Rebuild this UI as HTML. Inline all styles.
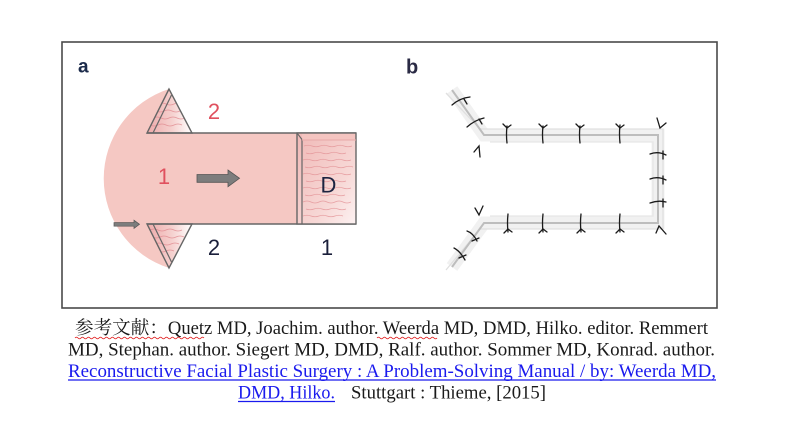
<!DOCTYPE html>
<html>
<head>
<meta charset="utf-8">
<style>
  html,body{margin:0;padding:0;background:#fff;}
  body{width:800px;height:432px;overflow:hidden;}
  svg{display:block;}
</style>
</head>
<body>
<svg width="800" height="432" viewBox="0 0 800 432" xmlns="http://www.w3.org/2000/svg">
  <defs>
    <linearGradient id="tg" x1="0" x2="1" y1="0" y2="0">
      <stop offset="0" stop-color="#eeaaaa"/>
      <stop offset="0.55" stop-color="#f5d0ce"/>
      <stop offset="1" stop-color="#ffffff"/>
    </linearGradient>
    <linearGradient id="dg" x1="0" x2="1" y1="0" y2="1">
      <stop offset="0" stop-color="#f0b8b6"/>
      <stop offset="0.65" stop-color="#f7d8d6"/>
      <stop offset="1" stop-color="#fdf2f2"/>
    </linearGradient>
    <clipPath id="ct1"><polygon points="169,89 147,133 192,133"/></clipPath>
    <clipPath id="ct2"><polygon points="147,224 192,224 169,268"/></clipPath>
    <clipPath id="cd"><rect x="302" y="140" width="54" height="84"/></clipPath>
  </defs>

  <!-- frame -->
  <rect x="62" y="42" width="655" height="266" fill="none" stroke="#4a4a4a" stroke-width="1.6"/>

  <!-- ===== Panel a ===== -->
  <text x="78" y="72.5" font-family="Liberation Sans, sans-serif" font-weight="bold" font-size="19" fill="#1b2a4a">a</text>

  <!-- pink region -->
  <path d="M169,89 A94,94 0 0,0 169,268 L147,224 L297,224 L297,133 L147,133 Z" fill="#f5c8c3"/>

  <!-- top triangle -->
  <polygon points="169,89 147,133 192,133" fill="url(#tg)"/>
  <g clip-path="url(#ct1)" fill="none" stroke="#e08a90" stroke-width="0.8" opacity="0.85">
    <path d="M158,104 q4,-2 8,0 t8,0 t8,0"/>
    <path d="M156,111 q4,2 8,0 t8,0 t8,0"/>
    <path d="M153,118 q4,-2 8,0 t8,0 t8,0 t8,0"/>
    <path d="M150,125 q4,2 8,0 t8,0 t8,0 t8,0"/>
  </g>
  <polygon points="169,89 147,133 192,133" fill="none" stroke="#666" stroke-width="1.4" stroke-linejoin="miter"/>
  <line x1="171.5" y1="95" x2="153" y2="133" stroke="#666" stroke-width="1.2"/>

  <!-- bottom triangle -->
  <polygon points="147,224 192,224 169,268" fill="url(#tg)"/>
  <g clip-path="url(#ct2)" fill="none" stroke="#e08a90" stroke-width="0.8" opacity="0.85">
    <path d="M150,230 q4,-2 8,0 t8,0 t8,0 t8,0"/>
    <path d="M152,237 q4,2 8,0 t8,0 t8,0 t8,0"/>
    <path d="M155,244 q4,-2 8,0 t8,0 t8,0"/>
    <path d="M158,251 q4,2 8,0 t8,0"/>
  </g>
  <polygon points="147,224 192,224 169,268" fill="none" stroke="#666" stroke-width="1.4"/>
  <line x1="153" y1="224" x2="171.5" y2="262" stroke="#666" stroke-width="1.2"/>

  <!-- rectangle edges -->
  <line x1="147" y1="133" x2="356" y2="133" stroke="#666" stroke-width="1.4"/>
  <line x1="147" y1="224" x2="356" y2="224" stroke="#666" stroke-width="1.4"/>

  <!-- D box -->
  <rect x="297" y="133" width="59" height="91" fill="url(#dg)"/>
  <rect x="302" y="133" width="54" height="7" fill="#f4c4c0"/>
  <g clip-path="url(#cd)" fill="none" stroke="#e39296" stroke-width="0.8" opacity="0.8">
    <path d="M304,146 q4,-1.5 8,0 t8,0 t8,0 t8,0 t8,0 t8,0"/>
    <path d="M306,153 q4,1.5 8,0 t8,0 t8,0 t8,0 t8,0"/>
    <path d="M303,160 q4,-1.5 8,0 t8,0 t8,0 t8,0 t8,0 t8,0"/>
    <path d="M305,167 q4,1.5 8,0 t8,0 t8,0 t8,0 t8,0 t8,0"/>
    <path d="M303,174 q4,-1.5 8,0 t8,0 t8,0 t8,0 t8,0 t8,0"/>
    <path d="M306,181 q4,1.5 8,0 t8,0 t8,0 t8,0 t8,0"/>
    <path d="M303,188 q4,-1.5 8,0 t8,0 t8,0 t8,0 t8,0 t8,0"/>
    <path d="M305,195 q4,1.5 8,0 t8,0 t8,0 t8,0 t8,0"/>
    <path d="M303,202 q4,-2 8,0 t8,0 t8,0 t8,0 t8,0 t8,0"/>
    <path d="M306,209 q4,1.5 8,0 t8,0 t8,0 t8,0 t8,0"/>
    <path d="M303,216 q4,-1.5 8,0 t8,0 t8,0 t8,0 t8,0"/>
  </g>
  <rect x="297" y="133" width="59" height="91" fill="none" stroke="#666" stroke-width="1.4"/>
  <line x1="302" y1="139.5" x2="302" y2="224" stroke="#666" stroke-width="1.2"/>
  <line x1="297" y1="133" x2="302" y2="139.5" stroke="#666" stroke-width="1.1"/>
  <line x1="302" y1="140" x2="356" y2="140" stroke="#e7a9a8" stroke-width="1"/>

  <!-- arrows -->
  <polygon points="197,174.5 228,174.5 228,170 239.5,178.3 228,186.7 228,182.3 197,182.3" fill="#7d7d7d" stroke="#555" stroke-width="0.8"/>
  <polygon points="114,222.6 134,222.6 134,220.2 139.5,224.3 134,228.4 134,226.2 114,226.2" fill="#7d7d7d" stroke="#555" stroke-width="0.7"/>

  <!-- labels a -->
  <g font-family="Liberation Sans, sans-serif" font-size="22" text-anchor="middle">
    <text x="214" y="119" fill="#e0505e">2</text>
    <text x="164" y="184" fill="#e0505e">1</text>
    <text x="214" y="255" fill="#1a1f3a">2</text>
    <text x="327" y="255" fill="#1a1f3a">1</text>
    <text x="328.5" y="192.5" fill="#1c2340">D</text>
  </g>

  <!-- ===== Panel b ===== -->
  <text x="406" y="73.3" font-family="Liberation Sans, sans-serif" font-weight="bold" font-size="20" fill="#2a2a44">b</text>

  <g fill="none" stroke-linejoin="miter">
    <path d="M452,90 L484,135 L658,135 L658,223 L484,223 L452,267" stroke="#f1f1f1" stroke-width="13"/>
    <path d="M446,93 L480,129 L663,129 L663,229 L480,229 L446,270" stroke="#e0e0e0" stroke-width="1.3"/>
    <path d="M490,142 L653,142 L653,216 L490,216" stroke="#e6e6e6" stroke-width="1.3"/>
    <path d="M452,90 L484,135 L658,135 L658,223 L484,223 L452,267" stroke="#bdbdbd" stroke-width="2"/>
  </g>

  <!-- sutures -->
  <g fill="none" stroke="#1a1a1a" stroke-width="1.3" stroke-linecap="round">
    <path d="M507,126 q-1,9 0,17"/><path d="M503,124 L507,128 L511,125"/>
    <path d="M543,126 q-1,9 0,17"/><path d="M539,124 L543,128 L547,125"/>
    <path d="M580,126 q-1,9 0,17"/><path d="M576,124 L580,128 L584,125"/>
    <path d="M620,125 q-1,9 0,18"/><path d="M616,124 L620,128 L624,125"/>
    <path d="M508,214 q-1,9 0,18"/><path d="M504,233 L508,229 L512,232"/>
    <path d="M543,214 q-1,9 0,18"/><path d="M539,233 L543,229 L547,232"/>
    <path d="M581,214 q-1,9 0,18"/><path d="M577,233 L581,229 L585,232"/>
    <path d="M620,214 q-1,9 0,18"/><path d="M616,233 L620,229 L624,232"/>
    <path d="M650,154 q8,-3 16,1"/><path d="M663,151 L663,159"/>
    <path d="M650,179 q8,-3 16,1"/><path d="M663,176 L663,184"/>
    <path d="M650,203 q8,-3 16,-1"/><path d="M663,199 L663,207"/>
    <path d="M657,118 L660,128 L666,123"/>
    <path d="M656,233 L659,226 L666,234"/>
    <path d="M474,152 L479,146 L480,157"/>
    <path d="M475,208 L479,215 L483,206"/>
    <path d="M452,105 q8,-7 18,-8"/><path d="M464,99 L467,104"/>
    <path d="M467,127 q8,-7 17,-9"/><path d="M479,119 L482,124"/>
    <path d="M467,231 q6,2 10,10"/><path d="M472,241 L479,238"/>
    <path d="M454,248 q6,3 11,12"/><path d="M459,258 L466,255"/>
  </g>

  <!-- ===== Caption ===== -->
  <g font-family="Liberation Serif, 'Noto Serif CJK SC', serif" font-size="18.5" fill="#1a1a1a">
    <text x="75" y="334" textLength="633" lengthAdjust="spacingAndGlyphs">参考文献：Quetz MD, Joachim. author. Weerda MD, DMD, Hilko. editor. Remmert</text>
    <text x="68" y="355.5" textLength="647" lengthAdjust="spacingAndGlyphs">MD, Stephan. author. Siegert MD, DMD, Ralf. author. Sommer MD, Konrad. author.</text>
    <text x="68" y="377" textLength="648" lengthAdjust="spacingAndGlyphs" fill="#1a1aee">Reconstructive Facial Plastic Surgery : A Problem-Solving Manual / by: Weerda MD,</text>
    <text x="238" y="398.5" textLength="97" lengthAdjust="spacingAndGlyphs" fill="#1a1aee">DMD, Hilko.</text>
    <text x="351" y="398.5" textLength="195" lengthAdjust="spacingAndGlyphs">Stuttgart : Thieme, [2015]</text>
  </g>
  <line x1="68" y1="380" x2="716" y2="380" stroke="#1a1aee" stroke-width="1.3"/>
  <line x1="238" y1="401.5" x2="335" y2="401.5" stroke="#1a1aee" stroke-width="1.3"/>
  <path d="M75,338 q1.5,-1.6 3,0 t3,0 t3,0 t3,0 t3,0 t3,0 t3,0 t3,0 t3,0 t3,0 t3,0 t3,0 t3,0 t3,0 t3,0 t3,0 t3,0 t3,0 t3,0 t3,0 t3,0 t3,0 t3,0 t3,0 t3,0 t3,0 t3,0 t3,0 t3,0 t3,0 t3,0 t3,0 t3,0 t3,0 t3,0 t3,0 t3,0 t3,0 t3,0 t3,0 t3,0 t3,0 t3,0" fill="none" stroke="#e02020" stroke-width="0.9"/>
  <path d="M377,338 q1.5,-1.6 3,0 t3,0 t3,0 t3,0 t3,0 t3,0 t3,0 t3,0 t3,0 t3,0 t3,0 t3,0 t3,0 t3,0 t3,0 t3,0 t3,0 t3,0 t3,0 t3,0" fill="none" stroke="#e02020" stroke-width="0.9"/>
</svg>
</body>
</html>
